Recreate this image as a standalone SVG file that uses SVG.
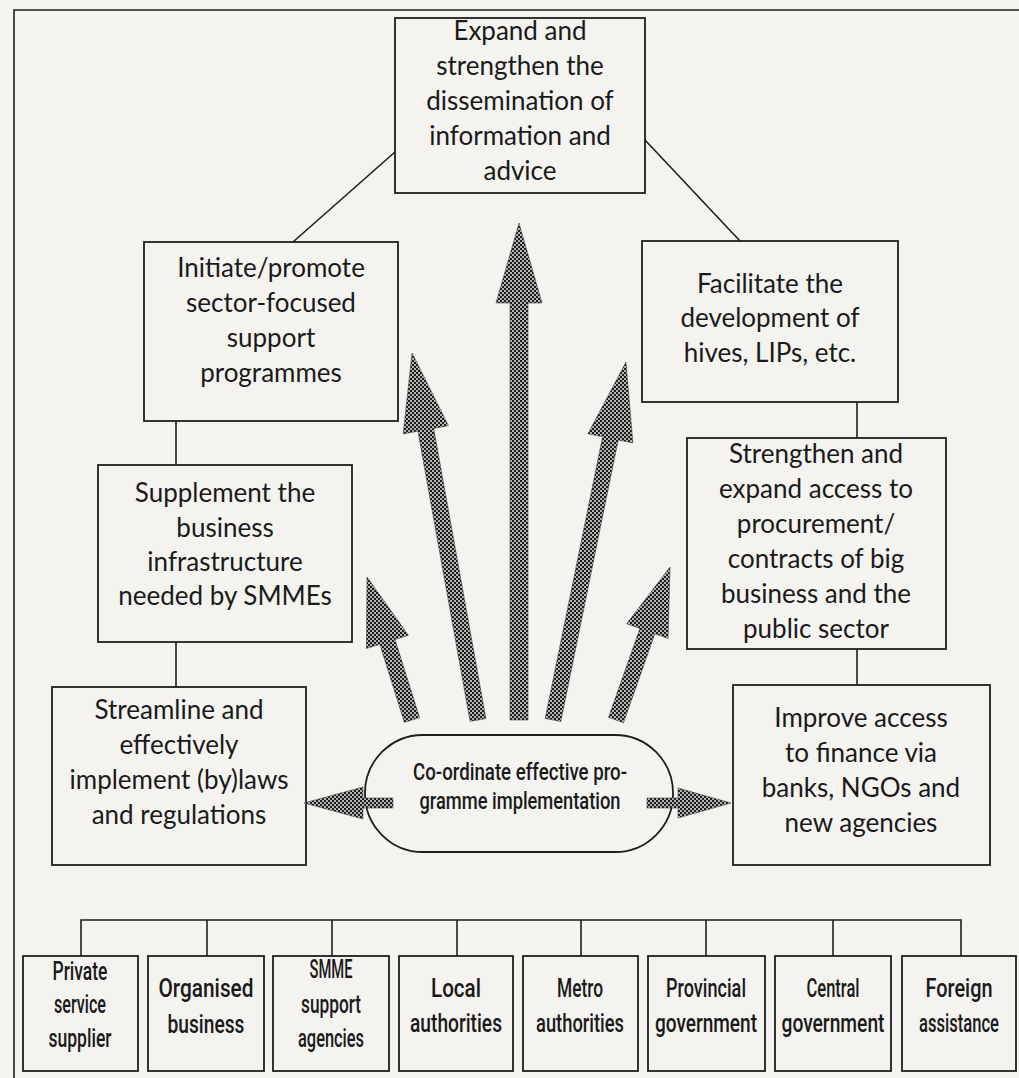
<svg xmlns="http://www.w3.org/2000/svg" width="1019" height="1078" viewBox="0 0 1019 1078">
<defs>
<pattern id="dots" width="4" height="4" patternUnits="userSpaceOnUse">
<rect width="4" height="4" fill="#b4b4b2"/>
<rect width="2" height="2" fill="#1c1c1c"/>
<rect x="2" y="2" width="2" height="2" fill="#1c1c1c"/>
</pattern>
<style>
.box{fill:none;stroke:#1e1e1e;stroke-width:1.8}
.ln{fill:none;stroke:#1e1e1e;stroke-width:1.6}
.arr{fill:url(#dots);stroke:#444;stroke-width:0.6}
.t{font-family:Lato,"Liberation Sans",sans-serif;font-size:26px;fill:#1a1a1a;text-anchor:middle}
.c{font-family:Roboto,"Liberation Sans",sans-serif;font-weight:500;font-size:26px;fill:#1a1a1a;text-anchor:middle}
.o{font-family:Roboto,"Liberation Sans",sans-serif;font-weight:500;font-size:23px;fill:#1a1a1a;text-anchor:middle}
</style>
</defs>
<rect width="1019" height="1078" fill="#f4f3ef"/>
<g id="frame" class="ln">
<path d="M14 1078 V10 H1019"/>
</g>
<g id="connectors">
<g class="ln">
<path d="M395 152 L293 242"/>
<path d="M645 140 L740 241"/>
<path d="M176 421 V465"/>
<path d="M176 642 V687"/>
<path d="M857 402 V438"/>
<path d="M857 649 V685"/>
<path d="M81 956 V920 H961 V956"/>
<path d="M207 920 V956 M332 920 V956 M457 920 V956 M581 920 V956 M706 920 V956 M833 920 V956"/>
</g>
<g class="arr">
<polygon points="404.4,722.4 379.8,644.3 366.4,648.5 367,577 408.4,635.3 395,639.5 419.6,717.6"/>
<polygon points="470.1,721.4 417.9,431.2 403.2,433.9 412,353 448.4,425.7 433.7,428.4 485.9,718.6"/>
<polygon points="510,720 510,303 496,303 519,223 542,303 528,303 528,720"/>
<polygon points="545.2,718.4 602.6,436.8 587.9,433.8 626,362 632.9,443 618.2,440 560.8,721.6"/>
<polygon points="608.5,717.3 639.9,628.4 626.7,623.8 670,567 668.1,638.4 654.9,633.8 623.5,722.7"/>
</g>
</g>
<g id="top">
<rect class="box" x="395" y="18" width="250" height="175"/>
<text class="t" x="520" y="40">Expand and</text>
<text class="t" x="520" y="75">strengthen the</text>
<text class="t" x="520" y="110">dissemination of</text>
<text class="t" x="520" y="145">information and</text>
<text class="t" x="520" y="180">advice</text>
</g>
<g id="initiate">
<rect class="box" x="144" y="242" width="254" height="179"/>
<text class="t" x="271" y="277">Initiate/promote</text>
<text class="t" x="271" y="312">sector-focused</text>
<text class="t" x="271" y="347">support</text>
<text class="t" x="271" y="382">programmes</text>
</g>
<g id="supplement">
<rect class="box" x="98" y="465" width="254" height="177"/>
<text class="t" x="225" y="502">Supplement the</text>
<text class="t" x="225" y="537">business</text>
<text class="t" x="225" y="571">infrastructure</text>
<text class="t" x="225" y="605">needed by SMMEs</text>
</g>
<g id="streamline">
<rect class="box" x="52" y="687" width="254" height="178"/>
<text class="t" x="179" y="719">Streamline and</text>
<text class="t" x="179" y="754">effectively</text>
<text class="t" x="179" y="789">implement (by)laws</text>
<text class="t" x="179" y="824">and regulations</text>
</g>
<g id="facilitate">
<rect class="box" x="642" y="241" width="256" height="161"/>
<text class="t" x="770" y="293">Facilitate the</text>
<text class="t" x="770" y="327">development of</text>
<text class="t" x="770" y="362">hives, LIPs, etc.</text>
</g>
<g id="strengthen">
<rect class="box" x="687" y="438" width="259" height="211"/>
<text class="t" x="816" y="463">Strengthen and</text>
<text class="t" x="816" y="498">expand access to</text>
<text class="t" x="816" y="533">procurement/</text>
<text class="t" x="816" y="568">contracts of big</text>
<text class="t" x="816" y="603">business and the</text>
<text class="t" x="816" y="638">public sector</text>
</g>
<g id="improve">
<rect class="box" x="733" y="685" width="257" height="180"/>
<text class="t" x="861" y="727">Improve access</text>
<text class="t" x="861" y="762">to finance via</text>
<text class="t" x="861" y="797">banks, NGOs and</text>
<text class="t" x="861" y="832">new agencies</text>
</g>
<g id="coordinate">
<rect class="box" x="365" y="735" width="308" height="117" rx="58" ry="58"/>
<g class="arr">
<polygon points="393,798 363,798 363,787 304,803 363,819 363,808 393,808"/>
<polygon points="647,798 678,798 678,788 731,803 678,818 678,808 647,808"/>
</g>
<text class="o" x="520" y="780" textLength="214" lengthAdjust="spacingAndGlyphs">Co-ordinate effective pro-</text>
<text class="o" x="520" y="809" textLength="201" lengthAdjust="spacingAndGlyphs">gramme implementation</text>
</g>
<g id="private">
<rect class="box" x="23" y="956" width="115" height="115"/>
<text class="c" x="80" y="980" textLength="55" lengthAdjust="spacingAndGlyphs">Private</text>
<text class="c" x="80" y="1013" textLength="52" lengthAdjust="spacingAndGlyphs">service</text>
<text class="c" x="80" y="1047" textLength="63" lengthAdjust="spacingAndGlyphs">supplier</text>
</g>
<g id="organised">
<rect class="box" x="148" y="956" width="116" height="115"/>
<text class="c" x="206" y="997" textLength="95" lengthAdjust="spacingAndGlyphs">Organised</text>
<text class="c" x="206" y="1033" textLength="77" lengthAdjust="spacingAndGlyphs">business</text>
</g>
<g id="smme">
<rect class="box" x="273" y="956" width="116" height="115"/>
<text class="c" x="331" y="978" textLength="43" lengthAdjust="spacingAndGlyphs">SMME</text>
<text class="c" x="331" y="1013" textLength="60" lengthAdjust="spacingAndGlyphs">support</text>
<text class="c" x="331" y="1047" textLength="66" lengthAdjust="spacingAndGlyphs">agencies</text>
</g>
<g id="local">
<rect class="box" x="399" y="956" width="114" height="115"/>
<text class="c" x="456" y="997" textLength="50" lengthAdjust="spacingAndGlyphs">Local</text>
<text class="c" x="456" y="1032" textLength="92" lengthAdjust="spacingAndGlyphs">authorities</text>
</g>
<g id="metro">
<rect class="box" x="523" y="956" width="115" height="115"/>
<text class="c" x="580" y="997" textLength="46" lengthAdjust="spacingAndGlyphs">Metro</text>
<text class="c" x="580" y="1032" textLength="88" lengthAdjust="spacingAndGlyphs">authorities</text>
</g>
<g id="provincial">
<rect class="box" x="648" y="956" width="117" height="115"/>
<text class="c" x="706" y="997" textLength="80" lengthAdjust="spacingAndGlyphs">Provincial</text>
<text class="c" x="706" y="1032" textLength="102" lengthAdjust="spacingAndGlyphs">government</text>
</g>
<g id="central">
<rect class="box" x="775" y="956" width="116" height="115"/>
<text class="c" x="833" y="997" textLength="53" lengthAdjust="spacingAndGlyphs">Central</text>
<text class="c" x="833" y="1032" textLength="103" lengthAdjust="spacingAndGlyphs">government</text>
</g>
<g id="foreign">
<rect class="box" x="902" y="956" width="114" height="115"/>
<text class="c" transform="translate(959 997) scale(0.72 1)" x="0" y="0" textLength="93" lengthAdjust="spacingAndGlyphs">Foreign</text>
<text class="c" transform="translate(959 1032) scale(0.72 1)" x="0" y="0" textLength="111" lengthAdjust="spacingAndGlyphs">assistance</text>
</g>
</svg>
